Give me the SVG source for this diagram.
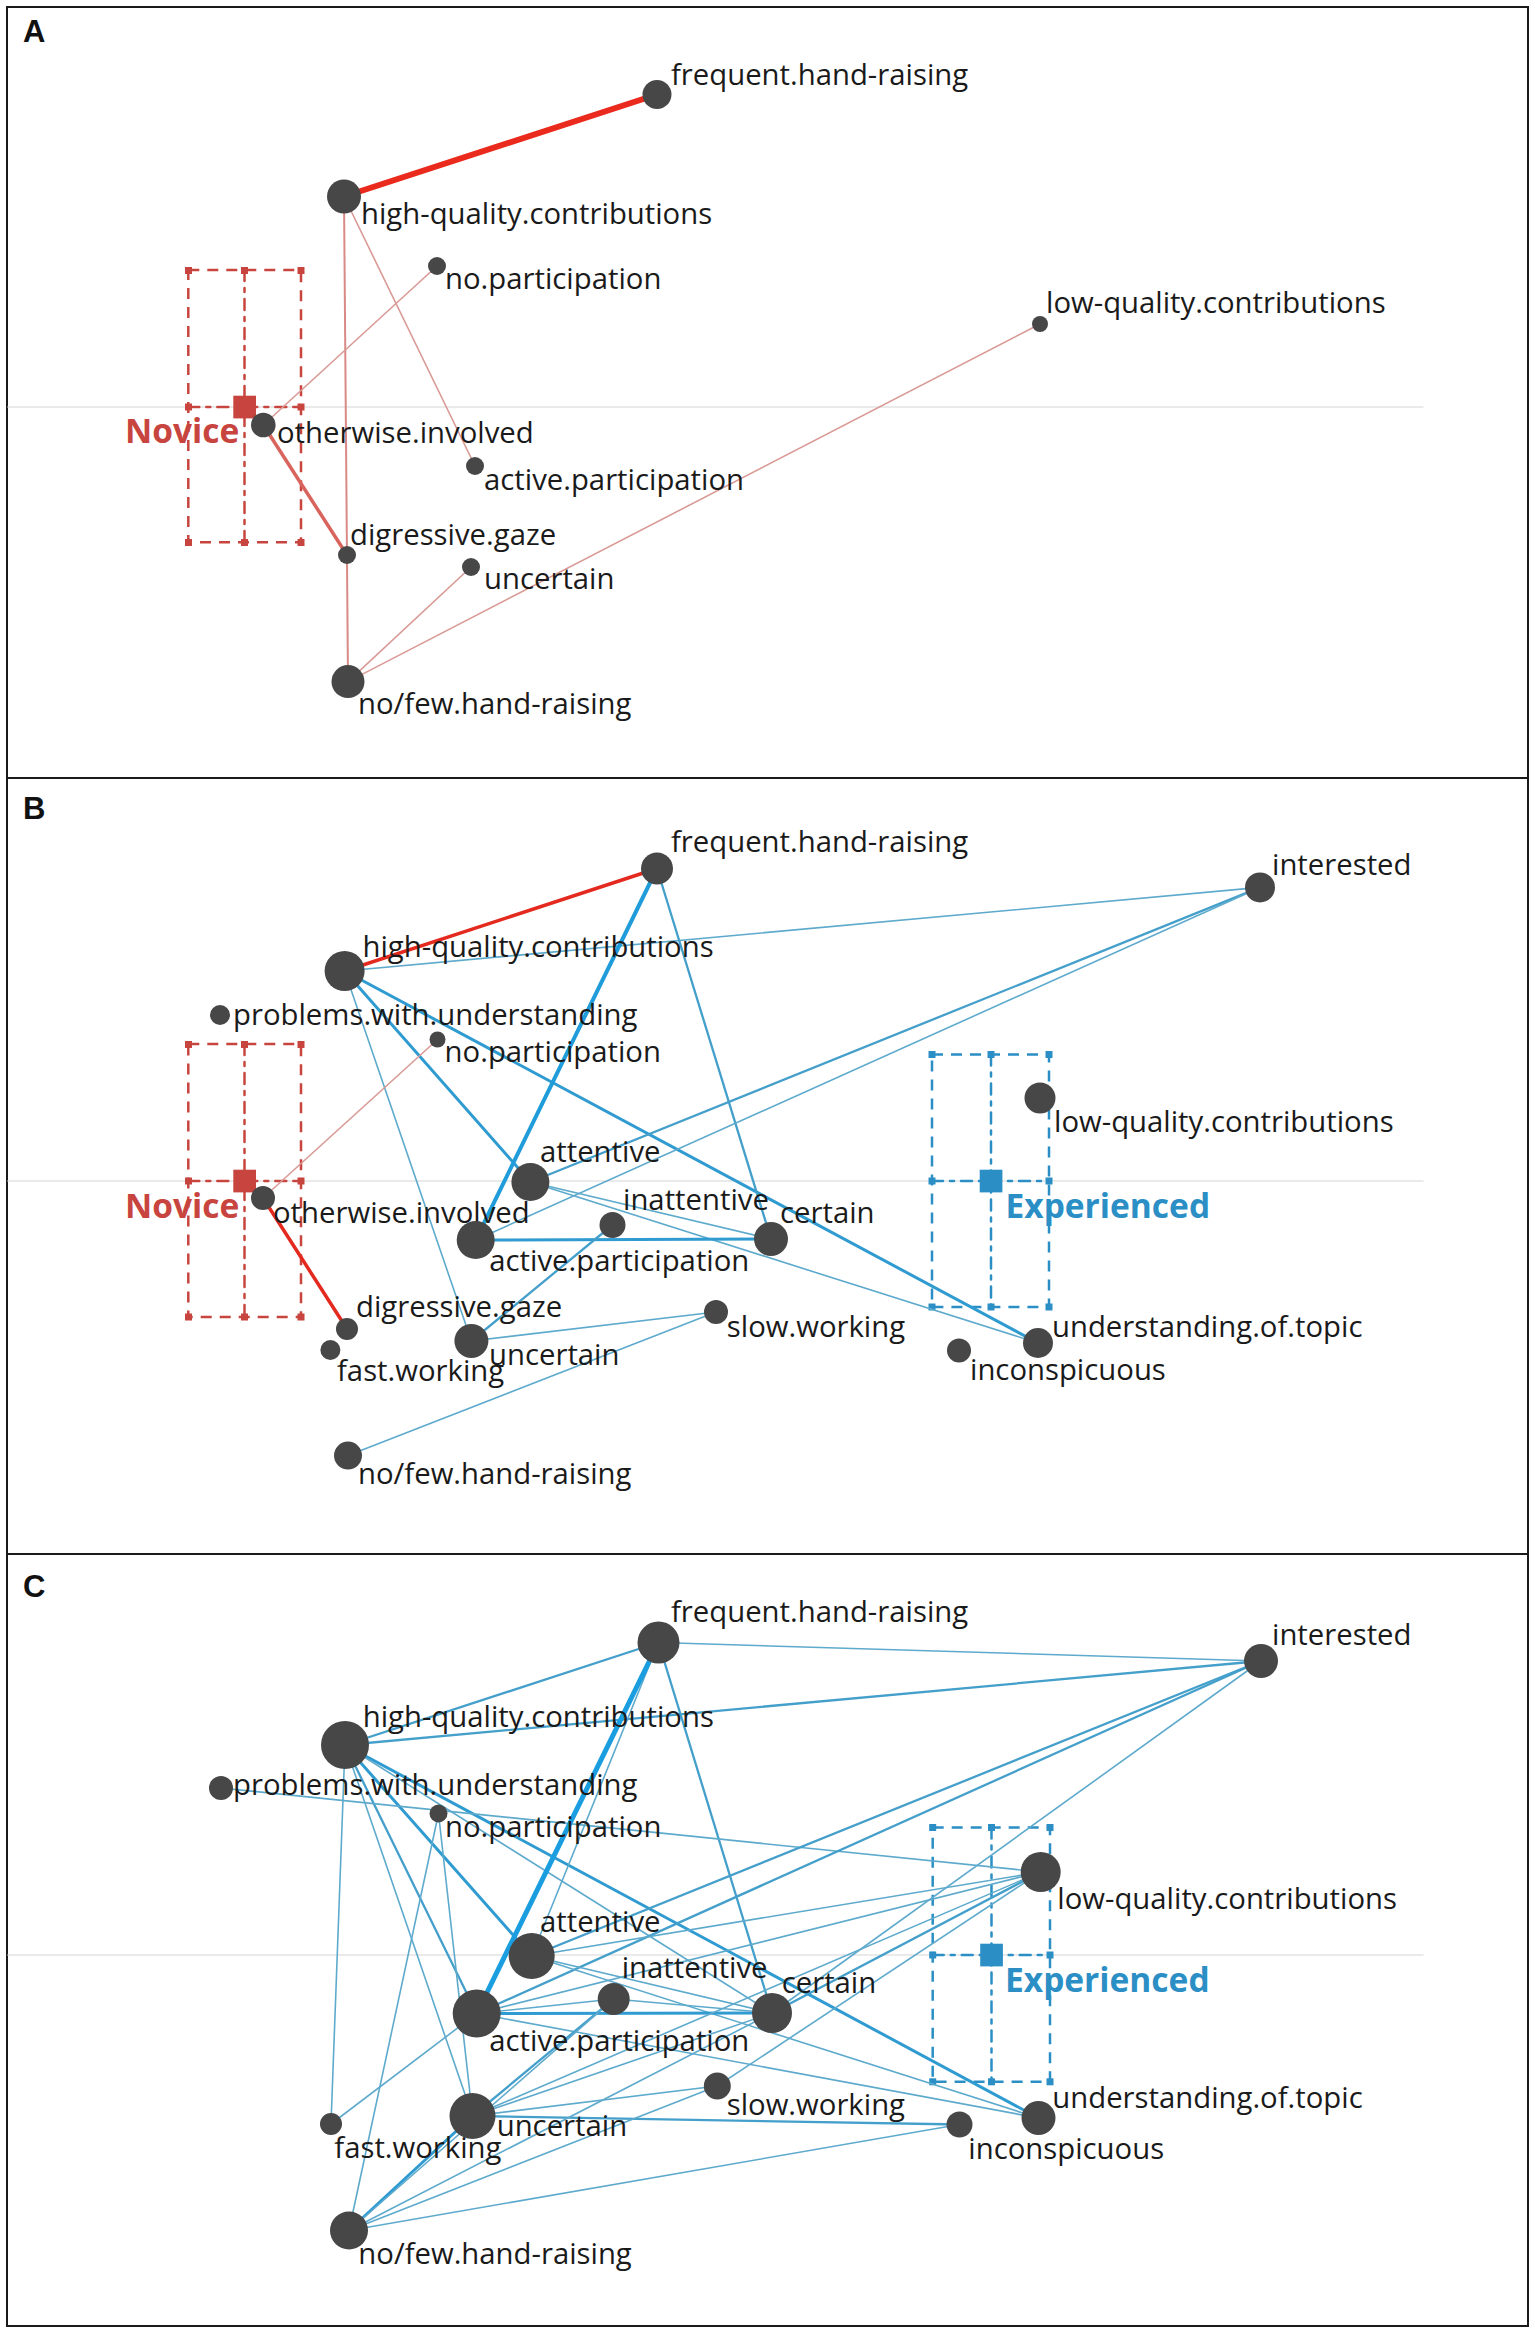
<svg xmlns="http://www.w3.org/2000/svg" width="1535" height="2333" viewBox="0 0 1535 2333">
<style>
.frame{fill:none;stroke:#1a1a1a;stroke-width:2}
.axis{stroke:#e3e3e3;stroke-width:1.5}
.n{fill:#474747}
.t{font-family:"Open Sans","Liberation Sans",sans-serif;font-size:29.3px;fill:#1a1a1a}
.pl{font-family:"Liberation Sans",Arial,sans-serif;font-weight:bold;font-size:31px;fill:#111}
.grpN{font-family:"Open Sans","Liberation Sans",sans-serif;font-weight:bold;font-size:33.5px;fill:#c8453f}
.grpE{font-family:"Open Sans","Liberation Sans",sans-serif;font-weight:bold;font-size:33.5px;fill:#2b8fc6}
.bxN{fill:none;stroke:#c8453f;stroke-width:2.5;stroke-dasharray:11 8}
.bxNm{fill:none;stroke:#c8453f;stroke-width:2.5;stroke-dasharray:11 7 4 7}
.bxE{fill:none;stroke:#2b8fc6;stroke-width:2.5;stroke-dasharray:11 8}
.bxEm{fill:none;stroke:#2b8fc6;stroke-width:2.5;stroke-dasharray:11 7 4 7}
.mN{fill:#c8453f}
.mE{fill:#2b8fc6}
line{stroke-linecap:round}
.r6{stroke:#ea2a1c;stroke-width:6}
.r35{stroke:#e4291f;stroke-width:3.5}
.rm{stroke:#d9645e;stroke-width:3.5}
.rl{stroke:#d99a96;stroke-width:1.6}
.rl2{stroke:#d98a86;stroke-width:2}
.b1{stroke:#5eaacd;stroke-width:1.6}
.b2{stroke:#449fcb;stroke-width:2.3}
.b3{stroke:#2f9bd0;stroke-width:3}
.b4{stroke:#1f9cd9;stroke-width:4}
.b5{stroke:#1a9ee0;stroke-width:5}
</style>
<rect width="1535" height="2333" fill="#ffffff"/>
<g id="frames">
<rect class="frame" x="7" y="7" width="1521" height="2319"/>
<line class="frame" x1="7" y1="778" x2="1528" y2="778"/>
<line class="frame" x1="7" y1="1554" x2="1528" y2="1554"/>
<text class="pl" x="23" y="42">A</text>
<text class="pl" x="23" y="819">B</text>
<text class="pl" x="23" y="1597">C</text>
</g>
<g id="axes">
<line class="axis" x1="8" y1="407" x2="1423" y2="407"/>
<line class="axis" x1="8" y1="1181" x2="1423" y2="1181"/>
<line class="axis" x1="8" y1="1955" x2="1423" y2="1955"/>
</g>
<g id="group-novice-A">
<rect class="bxN" x="188.3" y="270" width="112.7" height="272.3"/>
<line class="bxNm" x1="244.5" y1="270" x2="244.5" y2="542.3"/>
<line class="bxNm" x1="188.3" y1="407" x2="301" y2="407"/>
<rect class="mN" x="185" y="267" width="7" height="7"/><rect class="mN" x="241" y="267" width="7" height="7"/><rect class="mN" x="297.5" y="267" width="7" height="7"/>
<rect class="mN" x="185" y="403.5" width="7" height="7"/><rect class="mN" x="297.5" y="403.5" width="7" height="7"/>
<rect class="mN" x="185" y="539" width="7" height="7"/><rect class="mN" x="241" y="539" width="7" height="7"/><rect class="mN" x="297.5" y="539" width="7" height="7"/>
<rect class="mN" x="233.3" y="395.7" width="22.7" height="22.7"/>
<text class="grpN" x="125" y="443">Novice</text>
</g>
<g id="group-novice-B">
<rect class="bxN" x="188.3" y="1044" width="112.7" height="273"/>
<line class="bxNm" x1="244.5" y1="1044" x2="244.5" y2="1317"/>
<line class="bxNm" x1="188.3" y1="1181" x2="301" y2="1181"/>
<rect class="mN" x="185" y="1041" width="7" height="7"/><rect class="mN" x="241" y="1041" width="7" height="7"/><rect class="mN" x="297.5" y="1041" width="7" height="7"/>
<rect class="mN" x="185" y="1177.5" width="7" height="7"/><rect class="mN" x="297.5" y="1177.5" width="7" height="7"/>
<rect class="mN" x="185" y="1313.5" width="7" height="7"/><rect class="mN" x="241" y="1313.5" width="7" height="7"/><rect class="mN" x="297.5" y="1313.5" width="7" height="7"/>
<rect class="mN" x="233.3" y="1169.7" width="22.7" height="22.7"/>
<text class="grpN" x="125" y="1218">Novice</text>
</g>
<g id="group-experienced-B">
<rect class="bxE" x="932" y="1054.6" width="117" height="252.4"/>
<line class="bxEm" x1="991" y1="1054.6" x2="991" y2="1307"/>
<line class="bxEm" x1="932" y1="1181" x2="1049" y2="1181"/>
<rect class="mE" x="928.5" y="1051" width="7" height="7"/><rect class="mE" x="987.5" y="1051" width="7" height="7"/><rect class="mE" x="1045.5" y="1051" width="7" height="7"/>
<rect class="mE" x="928.5" y="1177.5" width="7" height="7"/><rect class="mE" x="1045.5" y="1177.5" width="7" height="7"/>
<rect class="mE" x="928.5" y="1303.5" width="7" height="7"/><rect class="mE" x="987.5" y="1303.5" width="7" height="7"/><rect class="mE" x="1045.5" y="1303.5" width="7" height="7"/>
<rect class="mE" x="979.7" y="1169.7" width="22.7" height="22.7"/>
<text class="grpE" x="1005.5" y="1218">Experienced</text>
</g>
<g id="group-experienced-C">
<rect class="bxE" x="932.7" y="1827.5" width="117.3" height="254.3"/>
<line class="bxEm" x1="991.5" y1="1827.5" x2="991.5" y2="2081.8"/>
<line class="bxEm" x1="932.7" y1="1955" x2="1050" y2="1955"/>
<rect class="mE" x="929.2" y="1824" width="7" height="7"/><rect class="mE" x="988" y="1824" width="7" height="7"/><rect class="mE" x="1046.5" y="1824" width="7" height="7"/>
<rect class="mE" x="929.2" y="1951.5" width="7" height="7"/><rect class="mE" x="1046.5" y="1951.5" width="7" height="7"/>
<rect class="mE" x="929.2" y="2078.3" width="7" height="7"/><rect class="mE" x="988" y="2078.3" width="7" height="7"/><rect class="mE" x="1046.5" y="2078.3" width="7" height="7"/>
<rect class="mE" x="980.2" y="1943.7" width="22.7" height="22.7"/>
<text class="grpE" x="1005" y="1991.5">Experienced</text>
</g>
<g id="connectors">
<g id="edges-A">
<line class="r6" x1="344" y1="196.5" x2="657" y2="94.5"/>
<line class="rl2" x1="344" y1="196.5" x2="348" y2="681.6"/>
<line class="rl" x1="344" y1="196.5" x2="475" y2="466"/>
<line class="rl" x1="263.3" y1="425" x2="437" y2="266"/>
<line class="rm" x1="263.3" y1="425" x2="347" y2="555"/>
<line class="rl" x1="348" y1="681.6" x2="471" y2="567"/>
<line class="rl" x1="348" y1="681.6" x2="1040" y2="324"/>
</g>
<g id="edges-B">
<line class="b1" x1="344.6" y1="971" x2="1260" y2="887.4"/>
<line class="b3" x1="344.6" y1="971" x2="530.4" y2="1182"/>
<line class="b3" x1="344.6" y1="971" x2="1038" y2="1343"/>
<line class="b1" x1="344.6" y1="971" x2="471.4" y2="1341"/>
<line class="b4" x1="657" y1="868.5" x2="475.7" y2="1240"/>
<line class="b2" x1="657" y1="868.5" x2="771" y2="1239"/>
<line class="b2" x1="530.4" y1="1182" x2="1260" y2="887.4"/>
<line class="b1" x1="475.7" y1="1240" x2="1260" y2="887.4"/>
<line class="b1" x1="530.4" y1="1182" x2="771" y2="1239"/>
<line class="b1" x1="530.4" y1="1182" x2="1038" y2="1343"/>
<line class="b3" x1="475.7" y1="1240" x2="771" y2="1239"/>
<line class="b2" x1="471.4" y1="1341" x2="612.5" y2="1225"/>
<line class="b1" x1="471.4" y1="1341" x2="716" y2="1312"/>
<line class="b1" x1="348" y1="1455.6" x2="716" y2="1312"/>
<line class="r35" x1="344.6" y1="971" x2="657" y2="868.5"/>
<line class="r35" x1="263" y1="1198" x2="347" y2="1329"/>
<line class="rl" x1="263" y1="1198" x2="437.5" y2="1039.5"/>
</g>
<g id="edges-C">
<line class="b2" x1="345" y1="1745" x2="658.5" y2="1642.5"/>
<line class="b2" x1="345" y1="1745" x2="1261" y2="1661"/>
<line class="b3" x1="345" y1="1745" x2="531.7" y2="1956"/>
<line class="b3" x1="345" y1="1745" x2="1038.5" y2="2118"/>
<line class="b1" x1="345" y1="1745" x2="772" y2="2013"/>
<line class="b2" x1="345" y1="1745" x2="476.7" y2="2013.5"/>
<line class="b1" x1="345" y1="1745" x2="472.5" y2="2116"/>
<line class="b1" x1="345" y1="1745" x2="331" y2="2124"/>
<line class="b1" x1="658.5" y1="1642.5" x2="1261" y2="1661"/>
<line class="b1" x1="658.5" y1="1642.5" x2="531.7" y2="1956"/>
<line class="b2" x1="658.5" y1="1642.5" x2="772" y2="2013"/>
<line class="b1" x1="221" y1="1788" x2="1040.7" y2="1872"/>
<line class="b1" x1="438.5" y1="1813.5" x2="349" y2="2230.5"/>
<line class="b1" x1="438.5" y1="1813.5" x2="472.5" y2="2116"/>
<line class="b2" x1="531.7" y1="1956" x2="1261" y2="1661"/>
<line class="b2" x1="476.7" y1="2013.5" x2="1261" y2="1661"/>
<line class="b1" x1="531.7" y1="1956" x2="772" y2="2013"/>
<line class="b1" x1="531.7" y1="1956" x2="1038.5" y2="2118"/>
<line class="b1" x1="531.7" y1="1956" x2="1040.7" y2="1872"/>
<line class="b3" x1="476.7" y1="2013.5" x2="772" y2="2013"/>
<line class="b1" x1="476.7" y1="2013.5" x2="613.7" y2="1999"/>
<line class="b1" x1="476.7" y1="2013.5" x2="1040.7" y2="1872"/>
<line class="b1" x1="476.7" y1="2013.5" x2="331" y2="2124"/>
<line class="b1" x1="476.7" y1="2013.5" x2="1038.5" y2="2118"/>
<line class="b1" x1="613.7" y1="1999" x2="772" y2="2013"/>
<line class="b2" x1="472.5" y1="2116" x2="613.7" y2="1999"/>
<line class="b1" x1="472.5" y1="2116" x2="717.3" y2="2086"/>
<line class="b2" x1="472.5" y1="2116" x2="959.5" y2="2124.5"/>
<line class="b1" x1="472.5" y1="2116" x2="1040.7" y2="1872"/>
<line class="b1" x1="472.5" y1="2116" x2="772" y2="2013"/>
<line class="b3" x1="472.5" y1="2116" x2="349" y2="2230.5"/>
<line class="b1" x1="349" y1="2230.5" x2="717.3" y2="2086"/>
<line class="b1" x1="349" y1="2230.5" x2="959.5" y2="2124.5"/>
<line class="b1" x1="349" y1="2230.5" x2="772" y2="2013"/>
<line class="b1" x1="349" y1="2230.5" x2="613.7" y2="1999"/>
<line class="b1" x1="772" y1="2013" x2="1261" y2="1661"/>
<line class="b2" x1="772" y1="2013" x2="1040.7" y2="1872"/>
<line class="b1" x1="717.3" y1="2086" x2="1040.7" y2="1872"/>
<line class="b5" x1="658.5" y1="1642.5" x2="476.7" y2="2013.5"/>
</g>
</g>
<g id="nodes-A">
<g id="A-frequent-hand-raising"><circle class="n" cx="657" cy="94.5" r="14.5"/><text class="t" x="671" y="84.6">frequent.hand-raising</text></g>
<g id="A-high-quality-contributions"><circle class="n" cx="344" cy="196.5" r="17"/><text class="t" x="361" y="224">high-quality.contributions</text></g>
<g id="A-no-participation"><circle class="n" cx="437" cy="266" r="9"/><text class="t" x="445" y="288.6">no.participation</text></g>
<g id="A-low-quality-contributions"><circle class="n" cx="1040" cy="324" r="8"/><text class="t" x="1046" y="313">low-quality.contributions</text></g>
<g id="A-otherwise-involved"><circle class="n" cx="263.3" cy="425" r="12.3"/><text class="t" x="277" y="443">otherwise.involved</text></g>
<g id="A-active-participation"><circle class="n" cx="475" cy="466" r="9"/><text class="t" x="484" y="490">active.participation</text></g>
<g id="A-digressive-gaze"><circle class="n" cx="347" cy="555" r="9"/><text class="t" x="350" y="545">digressive.gaze</text></g>
<g id="A-uncertain"><circle class="n" cx="471" cy="567" r="9"/><text class="t" x="484" y="588.6">uncertain</text></g>
<g id="A-no-few-hand-raising"><circle class="n" cx="348" cy="681.6" r="16.5"/><text class="t" x="358" y="714">no/few.hand-raising</text></g>
</g>
<g id="nodes-B">
<g id="B-frequent-hand-raising"><circle class="n" cx="657" cy="868.5" r="16"/><text class="t" x="671" y="852">frequent.hand-raising</text></g>
<g id="B-high-quality-contributions"><circle class="n" cx="344.6" cy="971" r="20"/><text class="t" x="362.5" y="956.7">high-quality.contributions</text></g>
<g id="B-problems-with-understanding"><circle class="n" cx="220" cy="1015" r="10"/><text class="t" x="233" y="1025">problems.with.understanding</text></g>
<g id="B-no-participation"><circle class="n" cx="437.5" cy="1039.5" r="8"/><text class="t" x="444.6" y="1062.3">no.participation</text></g>
<g id="B-otherwise-involved"><circle class="n" cx="263" cy="1198" r="12"/><text class="t" x="273" y="1223">otherwise.involved</text></g>
<g id="B-attentive"><circle class="n" cx="530.4" cy="1182" r="19"/><text class="t" x="540" y="1162.3">attentive</text></g>
<g id="B-active-participation"><circle class="n" cx="475.7" cy="1240" r="19"/><text class="t" x="489.3" y="1270.7">active.participation</text></g>
<g id="B-inattentive"><circle class="n" cx="612.5" cy="1225" r="13"/><text class="t" x="623" y="1210">inattentive</text></g>
<g id="B-certain"><circle class="n" cx="771" cy="1239" r="17"/><text class="t" x="780" y="1223.3">certain</text></g>
<g id="B-digressive-gaze"><circle class="n" cx="347" cy="1329" r="11"/><text class="t" x="356" y="1317">digressive.gaze</text></g>
<g id="B-fast-working"><circle class="n" cx="330.4" cy="1350" r="10"/><text class="t" x="337" y="1381">fast.working</text></g>
<g id="B-uncertain"><circle class="n" cx="471.4" cy="1341" r="17"/><text class="t" x="489" y="1364.5">uncertain</text></g>
<g id="B-slow-working"><circle class="n" cx="716" cy="1312" r="12"/><text class="t" x="726.8" y="1337">slow.working</text></g>
<g id="B-no-few-hand-raising"><circle class="n" cx="348" cy="1455.6" r="14"/><text class="t" x="358" y="1484">no/few.hand-raising</text></g>
<g id="B-interested"><circle class="n" cx="1260" cy="887.4" r="15"/><text class="t" x="1272" y="874.5">interested</text></g>
<g id="B-low-quality-contributions"><circle class="n" cx="1040" cy="1098" r="15.5"/><text class="t" x="1054" y="1132">low-quality.contributions</text></g>
<g id="B-understanding-of-topic"><circle class="n" cx="1038" cy="1343" r="15"/><text class="t" x="1052" y="1337">understanding.of.topic</text></g>
<g id="B-inconspicuous"><circle class="n" cx="959" cy="1350.6" r="12"/><text class="t" x="970" y="1379.5">inconspicuous</text></g>
</g>
<g id="nodes-C">
<g id="C-frequent-hand-raising"><circle class="n" cx="658.5" cy="1642.5" r="21"/><text class="t" x="671" y="1621.7">frequent.hand-raising</text></g>
<g id="C-high-quality-contributions"><circle class="n" cx="345" cy="1745" r="24"/><text class="t" x="362.7" y="1726.7">high-quality.contributions</text></g>
<g id="C-problems-with-understanding"><circle class="n" cx="221" cy="1788" r="12"/><text class="t" x="233" y="1795">problems.with.understanding</text></g>
<g id="C-no-participation"><circle class="n" cx="438.5" cy="1813.5" r="9"/><text class="t" x="445" y="1836.7">no.participation</text></g>
<g id="C-attentive"><circle class="n" cx="531.7" cy="1956" r="23"/><text class="t" x="540" y="1931.7">attentive</text></g>
<g id="C-inattentive"><circle class="n" cx="613.7" cy="1999" r="16"/><text class="t" x="621.7" y="1978.3">inattentive</text></g>
<g id="C-active-participation"><circle class="n" cx="476.7" cy="2013.5" r="24"/><text class="t" x="489.3" y="2050.7">active.participation</text></g>
<g id="C-certain"><circle class="n" cx="772" cy="2013" r="20"/><text class="t" x="781.7" y="1993.2">certain</text></g>
<g id="C-slow-working"><circle class="n" cx="717.3" cy="2086" r="13.5"/><text class="t" x="726.7" y="2114.6">slow.working</text></g>
<g id="C-uncertain"><circle class="n" cx="472.5" cy="2116" r="23"/><text class="t" x="496.7" y="2136">uncertain</text></g>
<g id="C-fast-working"><circle class="n" cx="331" cy="2124" r="11"/><text class="t" x="334.3" y="2158">fast.working</text></g>
<g id="C-no-few-hand-raising"><circle class="n" cx="349" cy="2230.5" r="19"/><text class="t" x="358.3" y="2264">no/few.hand-raising</text></g>
<g id="C-interested"><circle class="n" cx="1261" cy="1661" r="17"/><text class="t" x="1272" y="1645">interested</text></g>
<g id="C-low-quality-contributions"><circle class="n" cx="1040.7" cy="1872" r="20"/><text class="t" x="1057.3" y="1909.3">low-quality.contributions</text></g>
<g id="C-understanding-of-topic"><circle class="n" cx="1038.5" cy="2118" r="17"/><text class="t" x="1052.3" y="2107.5">understanding.of.topic</text></g>
<g id="C-inconspicuous"><circle class="n" cx="959.5" cy="2124.5" r="13"/><text class="t" x="968.3" y="2159.3">inconspicuous</text></g>
</g>
</svg>
